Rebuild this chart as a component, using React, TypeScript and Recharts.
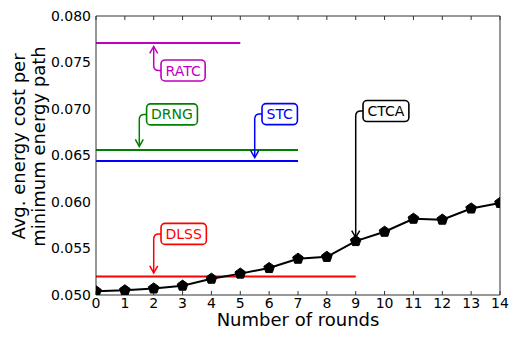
import React from 'react';
import { LineChart, Line, XAxis, YAxis, ReferenceDot, Label } from 'recharts';

// ---------- data ----------
const rounds = [0, 1, 2, 3, 4, 5, 6, 7, 8, 9, 10, 11, 12, 13, 14];
const ctcaCost = [0.0504, 0.0505, 0.0507, 0.0510, 0.05175, 0.0523, 0.0529, 0.0539, 0.0541, 0.0558, 0.0568, 0.0582, 0.0581, 0.0593, 0.0599];

const baselineNames = ['RATC', 'DRNG', 'STC', 'DLSS'];
const baselineCost = [0.0771, 0.0656, 0.0644, 0.0520];
const baselineLastRound = [5, 7, 7, 9];

const xTicks = [0, 1, 2, 3, 4, 5, 6, 7, 8, 9, 10, 11, 12, 13, 14];
const yTicks = [0.05, 0.055, 0.06, 0.065, 0.07, 0.075, 0.08];

const annotationNames = ['RATC', 'DRNG', 'STC', 'CTCA', 'DLSS'];
const annotationRound = [2, 1.5, 5.5, 9, 2];
const annotationCost = [baselineCost[0], baselineCost[1], baselineCost[2], ctcaCost[9], baselineCost[3]];

// ---------- styles ----------
const FONT = '"DejaVu Sans", sans-serif';
const colors: Record<string, string> = {
  RATC: '#bf00bf',
  DRNG: '#008000',
  STC: '#0000ff',
  DLSS: '#ff0000',
  CTCA: '#000000',
};
// text-box vertical offset (px) from the annotated point
const annotationDy: Record<string, number> = {
  RATC: 27.5,
  DRNG: -35.5,
  STC: -47,
  CTCA: -130,
  DLSS: -42.5,
};
const FRAME = '#333';

const ctcaData = rounds.map((r, i) => ({ round: r, cost: ctcaCost[i] }));
const baselineData = baselineNames.map((n, i) => [
  { round: 0, cost: baselineCost[i] },
  { round: baselineLastRound[i], cost: baselineCost[i] },
]);

let measureCtx: CanvasRenderingContext2D | null = null;
function textWidth(t: string, size: number): number {
  if (!measureCtx) {
    const c = document.createElement('canvas');
    measureCtx = c.getContext('2d');
  }
  if (!measureCtx) return t.length * size * 0.68;
  measureCtx.font = `${size}px "DejaVu Sans"`;
  return measureCtx.measureText(t).width;
}

const Pentagon = (props: any) => {
  const { cx, cy, index } = props;
  if (cx == null || cy == null) return <g key={index} />;
  const r = 5.6;
  const pts: string[] = [];
  for (let k = 0; k < 5; k++) {
    const a = -Math.PI / 2 + (k * 2 * Math.PI) / 5;
    pts.push(`${cx + r * Math.cos(a)},${cy + r * Math.sin(a)}`);
  }
  return <polygon key={index} points={pts.join(' ')} fill="#000" stroke="#000" strokeWidth={1} />;
};

const makeAnnotation = (name: string) => (props: any) => {
  const { cx, cy } = props;
  if (cx == null || cy == null) return <g />;
  const color = colors[name];
  const dy = annotationDy[name];
  const fs = 14;
  const tw = textWidth(name, fs);
  const padX = 4.5;
  const boxH = 21;
  const boxLeft = cx + 7.3;
  const boxCy = cy + dy;
  const boxW = tw + 2 * padX;
  const dir = dy > 0 ? -1 : 1; // direction from box toward point (vertical)
  const rad = 5;
  const shrink = 3.5;
  const tipY = cy - dir * shrink;
  const path = `M ${boxLeft} ${boxCy} L ${cx + rad} ${boxCy} Q ${cx} ${boxCy} ${cx} ${boxCy + dir * rad} L ${cx} ${tipY}`;
  const head = `M ${cx - 4} ${tipY - dir * 7} L ${cx} ${tipY} L ${cx + 4} ${tipY - dir * 7}`;
  return (
    <g>
      <path d={path} fill="none" stroke={color} strokeWidth={1.5} />
      <path d={head} fill="none" stroke={color} strokeWidth={1.5} />
      <rect x={boxLeft} y={boxCy - boxH / 2} width={boxW} height={boxH} rx={4} ry={4} fill="#fff" stroke={color} strokeWidth={1.6} />
      <text x={boxLeft + boxW / 2} y={boxCy} dy="0.36em" textAnchor="middle" fontSize={fs} fontFamily={FONT} fill={color}>
        {name}
      </text>
    </g>
  );
};

const YLabel = (props: any) => {
  const vb = props.viewBox || { y: 16, height: 279 };
  const cy = vb.y + vb.height / 2 - 9;
  return (
    <g>
      <text x={25} y={cy} transform={`rotate(-90, 25, ${cy})`} textAnchor="middle" fontSize={18} fontFamily={FONT} fill="#000">
        Avg. energy cost per
      </text>
      <text x={44.5} y={cy} transform={`rotate(-90, 44.5, ${cy})`} textAnchor="middle" fontSize={18} fontFamily={FONT} fill="#000">
        minimum energy path
      </text>
    </g>
  );
};

export default function App() {
  return (
    <div style={{ position: 'absolute', left: 0, top: 0, width: 519, height: 337, background: '#fff' }}>
      <LineChart
        width={519}
        height={337}
        data={ctcaData}
        margin={{ top: 16, right: 19, bottom: 0, left: 0 }}
        style={{ fontFamily: FONT }}
      >
        <XAxis
          dataKey="round"
          type="number"
          domain={[0, 14]}
          ticks={xTicks}
          interval={0}
          height={42}
          tickLine={false}
          tickSize={3}
          tickMargin={0}
          axisLine={{ stroke: FRAME, strokeWidth: 1 }}
          tick={{ fill: '#000', fontSize: 14, fontFamily: FONT }}
          allowDataOverflow
        >
          <Label value="Number of rounds" position="insideBottom" offset={11} style={{ fontSize: 18, fontFamily: FONT, fill: '#000' }} />
        </XAxis>
        <XAxis xAxisId="bm" dataKey="round" type="number" domain={[0, 14]} ticks={xTicks} interval={0} mirror height={1} tick={() => <g />} tickSize={4} axisLine={false} tickLine={{ stroke: FRAME }} />
        <XAxis xAxisId="top" orientation="top" dataKey="round" type="number" domain={[0, 14]} ticks={xTicks} interval={0} mirror height={1} tick={() => <g />} tickSize={4} axisLine={{ stroke: FRAME }} tickLine={{ stroke: FRAME }} />
        <YAxis
          type="number"
          domain={[0.05, 0.08]}
          ticks={yTicks}
          interval={0}
          width={96}
          tickLine={false}
          tickSize={5}
          tickMargin={0}
          axisLine={{ stroke: FRAME, strokeWidth: 1 }}
          tickFormatter={(v: number) => v.toFixed(3)}
          tick={{ fill: '#000', fontSize: 14, fontFamily: FONT }}
          allowDataOverflow
        >
          <Label content={YLabel} />
        </YAxis>
        <YAxis yAxisId="lm" type="number" domain={[0.05, 0.08]} ticks={yTicks} interval={0} mirror width={1} tick={() => <g />} tickSize={4} axisLine={false} tickLine={{ stroke: FRAME }} />
        <YAxis yAxisId="right" orientation="right" type="number" domain={[0.05, 0.08]} ticks={yTicks} interval={0} mirror width={1} tick={() => <g />} tickSize={4} axisLine={{ stroke: FRAME }} tickLine={{ stroke: FRAME }} />

        {baselineNames.map((n, i) => (
          <Line
            key={n}
            data={baselineData[i]}
            dataKey="cost"
            stroke={colors[n]}
            strokeWidth={2}
            dot={false}
            activeDot={false}
            isAnimationActive={false}
          />
        ))}
        <Line
          dataKey="cost"
          stroke="#000"
          strokeWidth={2}
          dot={Pentagon}
          activeDot={false}
          isAnimationActive={false}
        />
        {annotationNames.map((n, i) => (
          <ReferenceDot
            key={n}
            x={annotationRound[i]}
            y={annotationCost[i]}
            r={0}
            ifOverflow="visible"
            shape={makeAnnotation(n)}
          />
        ))}
      </LineChart>
    </div>
  );
}
